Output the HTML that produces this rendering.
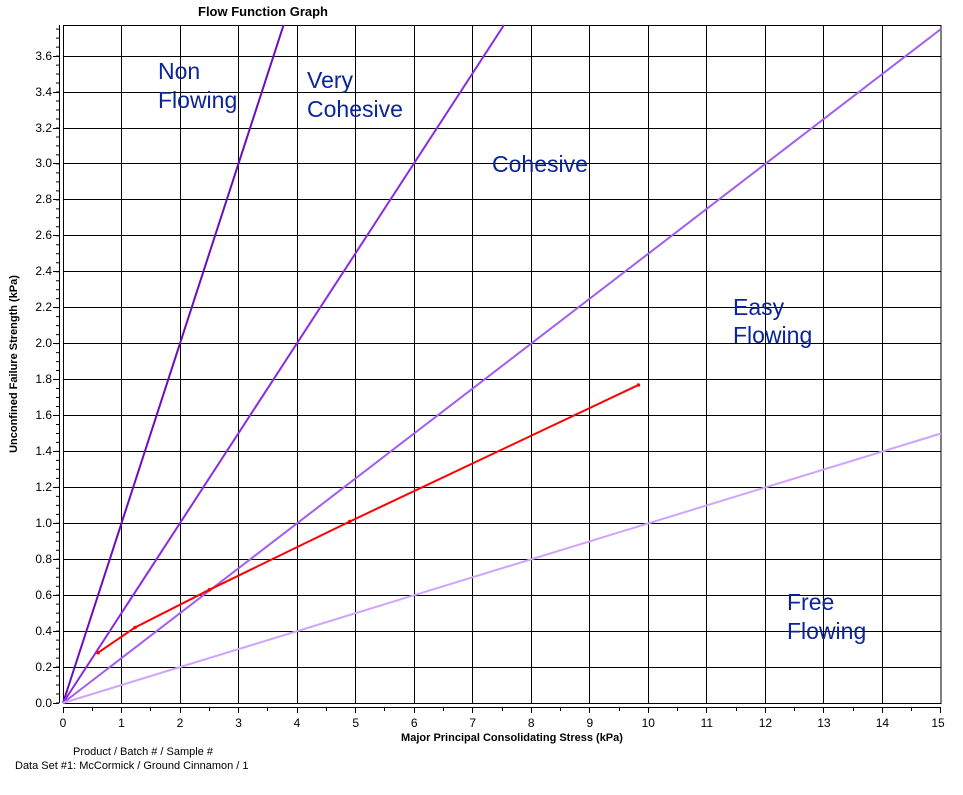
<!DOCTYPE html>
<html><head><style>body{margin:0;background:#fff}</style></head><body>
<svg width="963" height="790" xmlns="http://www.w3.org/2000/svg" font-family="Liberation Sans, Arial, sans-serif">
<rect width="963" height="790" fill="#fff"/>
<text x="263" y="16" font-size="13" font-weight="bold" text-anchor="middle">Flow Function Graph</text>
<g stroke="#000" stroke-width="1" fill="none">
<rect x="63.5" y="25.5" width="877.5" height="678"/>
<path d="M121.5 25V703M180.5 25V703M238.5 25V703M297.5 25V703M355.5 25V703M414.5 25V703M472.5 25V703M531.5 25V703M589.5 25V703M648.5 25V703M706.5 25V703M765.5 25V703M823.5 25V703M882.5 25V703"/>
<path d="M63 667.5H941M63 631.5H941M63 595.5H941M63 559.5H941M63 523.5H941M63 487.5H941M63 451.5H941M63 415.5H941M63 379.5H941M63 343.5H941M63 307.5H941M63 271.5H941M63 235.5H941M63 199.5H941M63 163.5H941M63 128.5H941M63 92.5H941M63 56.5H941"/>
<path d="M59.5 25V703M63 707.5H941"/>
<path d="M53 703.5H59M53 667.5H59M53 631.5H59M53 595.5H59M53 559.5H59M53 523.5H59M53 487.5H59M53 451.5H59M53 415.5H59M53 379.5H59M53 343.5H59M53 307.5H59M53 271.5H59M53 235.5H59M53 199.5H59M53 163.5H59M53 128.5H59M53 92.5H59M53 56.5H59"/>
<line x1="57.5" y1="703.5" x2="57.5" y2="25" stroke-width="3" stroke-dasharray="1 7.985"/>
<path d="M63.5 707V713M121.5 707V713M180.5 707V713M238.5 707V713M297.5 707V713M355.5 707V713M414.5 707V713M472.5 707V713M531.5 707V713M589.5 707V713M648.5 707V713M706.5 707V713M765.5 707V713M823.5 707V713M882.5 707V713M940.5 707V713"/>
<path d="M92.5 707V711M150.5 707V711M209.5 707V711M267.5 707V711M326.5 707V711M384.5 707V711M443.5 707V711M502.5 707V711M560.5 707V711M619.5 707V711M677.5 707V711M736.5 707V711M794.5 707V711M853.5 707V711M911.5 707V711"/>
</g>
<g font-size="12" text-anchor="end">
<text x="52" y="707">0.0</text><text x="52" y="671">0.2</text><text x="52" y="635">0.4</text><text x="52" y="599">0.6</text><text x="52" y="563">0.8</text><text x="52" y="527">1.0</text><text x="52" y="491">1.2</text><text x="52" y="455">1.4</text><text x="52" y="419">1.6</text><text x="52" y="383">1.8</text><text x="52" y="347">2.0</text><text x="52" y="311">2.2</text><text x="52" y="275">2.4</text><text x="52" y="239">2.6</text><text x="52" y="203">2.8</text><text x="52" y="167">3.0</text><text x="52" y="132">3.2</text><text x="52" y="96">3.4</text><text x="52" y="60">3.6</text>
</g>
<g font-size="12" text-anchor="middle">
<text x="63" y="727">0</text><text x="121.5" y="727">1</text><text x="180" y="727">2</text><text x="238.6" y="727">3</text><text x="297" y="727">4</text><text x="355.7" y="727">5</text><text x="414.2" y="727">6</text><text x="472.7" y="727">7</text><text x="531.2" y="727">8</text><text x="589.8" y="727">9</text><text x="648.3" y="727">10</text><text x="706.8" y="727">11</text><text x="765.4" y="727">12</text><text x="823.9" y="727">13</text><text x="882.4" y="727">14</text><text x="938" y="727">15</text>
</g>
<g fill="#0a2499" font-size="23">
<text x="158" y="79">Non</text><text x="158" y="108">Flowing</text>
<text x="307" y="88">Very</text><text x="307" y="117">Cohesive</text>
<text x="492" y="172">Cohesive</text>
<text x="733" y="315">Easy</text><text x="733" y="343">Flowing</text>
<text x="787" y="610">Free</text><text x="787" y="639">Flowing</text>
</g>
<g stroke-width="2" fill="none">
<line x1="63" y1="703" x2="283.6" y2="25" stroke="#6a0dbf"/>
<line x1="63" y1="703" x2="504" y2="25" stroke="#8a2be2"/>
<line x1="63" y1="703" x2="941" y2="29" stroke="#a35cf0"/>
<line x1="63" y1="703" x2="941" y2="433.5" stroke="#cfa3ff"/>
<polyline stroke="#f00" points="98.1,652.7 135,627.5 209.3,589.8 349.8,521.5 638.4,385"/>
</g>
<g fill="#f00"><circle cx="98.1" cy="652.7" r="1.8"/><circle cx="135" cy="627.5" r="1.8"/><circle cx="209.3" cy="589.8" r="1.8"/><circle cx="349.8" cy="521.5" r="1.8"/><circle cx="638.4" cy="385" r="1.8"/></g>
<text x="512" y="741" font-size="11" font-weight="bold" text-anchor="middle">Major Principal Consolidating Stress (kPa)</text>
<text transform="translate(17,364) rotate(-90)" font-size="11" font-weight="bold" text-anchor="middle">Unconfined Failure Strength (kPa)</text>
<text x="143" y="755" font-size="11" text-anchor="middle">Product / Batch # / Sample #</text>
<text x="15" y="769" font-size="11">Data Set #1: McCormick / Ground Cinnamon / 1</text>
</svg>
</body></html>
